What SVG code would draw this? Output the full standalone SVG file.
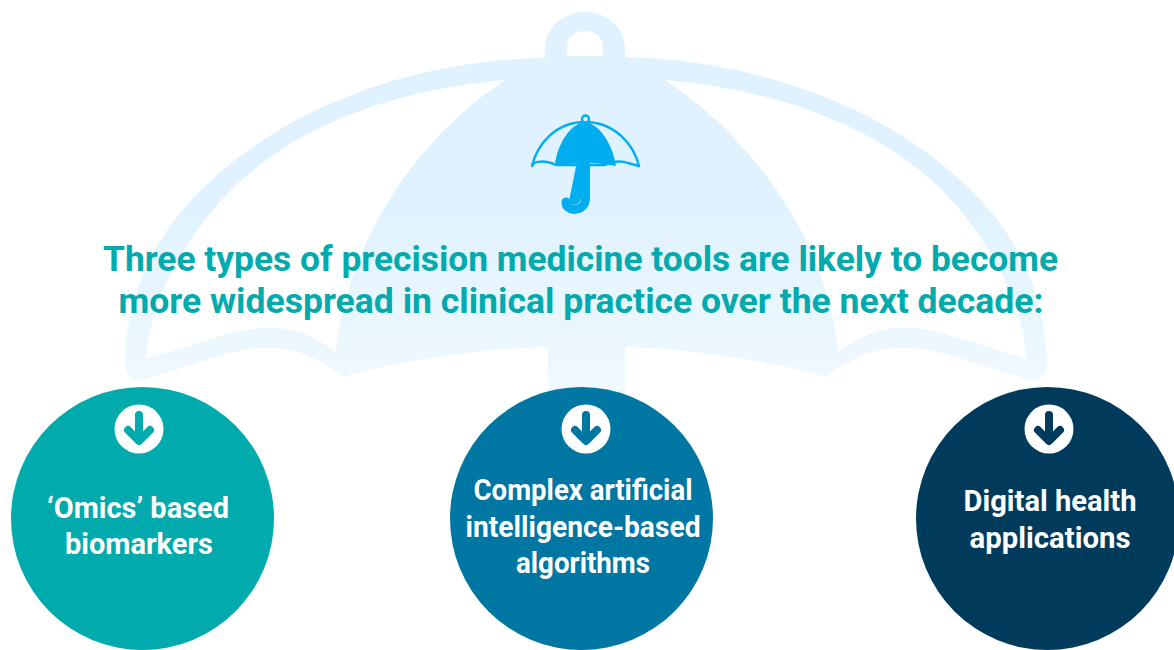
<svg xmlns="http://www.w3.org/2000/svg" width="1174" height="650" viewBox="0 0 1174 650">
<style>
.t{font-family:"Roboto","Liberation Sans",sans-serif;font-weight:700;text-anchor:middle}
.title{font-size:35px;fill:#00aaad}
.lab{font-size:30px;fill:#fff}
.disc{fill:#fff}
.arr{fill:none;stroke-width:8;stroke-linecap:round;stroke-linejoin:round}
</style>
<defs>
<linearGradient id="bg" gradientUnits="userSpaceOnUse" x1="0" y1="200" x2="0" y2="430">
<stop offset="0" stop-color="#dff2fd"/><stop offset="1" stop-color="#f4fafe"/>
</linearGradient>
</defs>
<g id="background-umbrella" fill="url(#bg)">
<path fill-rule="evenodd" d="M545 58V50C545 27 563 12 585 12S625 27 625 50V57C760 60 900 110 985 205C1030 255 1047 315 1047 365C1047 376 1037 383 1026 379L950 355C900 342 870 345 826 377L826 377C770 360 680 348 625 347V420H548V347C490 348 400 360 345 377C300 345 270 342 222 355L146 379C135 383 125 376 125 365C125 315 142 255 187 205C272 110 410 60 545 58ZM567 56H603V47C603 37 595 31 585 31S567 37 567 47ZM505 80C370 92 265 140 205 220C170 265 150 310 146 359L222 336C270 322 300 325 336 352C345 260 400 150 505 80ZM665 80C770 150 830 260 838 352C875 325 905 322 952 336L1027 359C1022 310 1002 265 968 220C908 140 800 92 665 80Z"/>
</g>
<g id="small-umbrella">
<path d="M585 122C615 122 634 145 639 166L628 163C620 160 612 162 605 165L556 165C550 162 542 160 534 163L532 166C537 145 555 122 585 122Z" fill="none" stroke="#00aeef" stroke-width="2.4" stroke-linejoin="round"/>
<circle cx="585.500" cy="119" r="3.500" fill="#dff2fd" stroke="#00aeef" stroke-width="2.400"/>
<path d="M585 122C570 124 557 145 555 166C565 164 575 163 581 163V197C581 206 570 207 569 201" fill="#00aeef" stroke="none"/>
<path d="M585 122C600 124 613 145 616 166C605 164 595 163 590 163V163H581V163C575 163 565 164 555 166C557 145 570 124 585 122Z" fill="#00aeef"/>
<path d="M585.500 163V198C585.500 213 565 212 566 202" fill="none" stroke="#00aeef" stroke-width="9" stroke-linecap="round"/>
</g>
<text id="title-line-1" class="t title" x="580.500" y="271" textLength="955" lengthAdjust="spacingAndGlyphs">Three types of precision medicine tools are likely to become</text>
<text id="title-line-2" class="t title" x="581" y="313" textLength="925" lengthAdjust="spacingAndGlyphs">more widespread in clinical practice over the next decade:</text>
<g id="node-omics">
<circle cx="142.500" cy="518.500" r="131.500" fill="#00aaad"/>
<circle class="disc" cx="139" cy="429" r="24.500"/>
<path class="arr" stroke="#00aaad" d="M139 415V440M128 430L139 441L150 430"/>
<text class="t lab" x="138" y="518" textLength="182" lengthAdjust="spacingAndGlyphs">‘Omics’ based</text>
<text class="t lab" x="139" y="554" textLength="148" lengthAdjust="spacingAndGlyphs">biomarkers</text>
</g>
<g id="node-ai">
<circle cx="581.500" cy="518.500" r="131.500" fill="#0076a2"/>
<circle class="disc" cx="586" cy="429" r="24.500"/>
<path class="arr" stroke="#0076a2" d="M586 415V440M575 430L586 441L597 430"/>
<text class="t lab" x="583" y="500" textLength="219" lengthAdjust="spacingAndGlyphs">Complex artificial</text>
<text class="t lab" x="583" y="537" textLength="235" lengthAdjust="spacingAndGlyphs">intelligence-based</text>
<text class="t lab" x="583" y="573" textLength="134" lengthAdjust="spacingAndGlyphs">algorithms</text>
</g>
<g id="node-digital">
<circle cx="1047.500" cy="518.500" r="131.500" fill="#003b5c"/>
<circle class="disc" cx="1049" cy="429" r="24.500"/>
<path class="arr" stroke="#003b5c" d="M1049 415V440M1038 430L1049 441L1060 430"/>
<text class="t lab" x="1050" y="511" textLength="173" lengthAdjust="spacingAndGlyphs">Digital health</text>
<text class="t lab" x="1050" y="548" textLength="161" lengthAdjust="spacingAndGlyphs">applications</text>
</g>
</svg>
